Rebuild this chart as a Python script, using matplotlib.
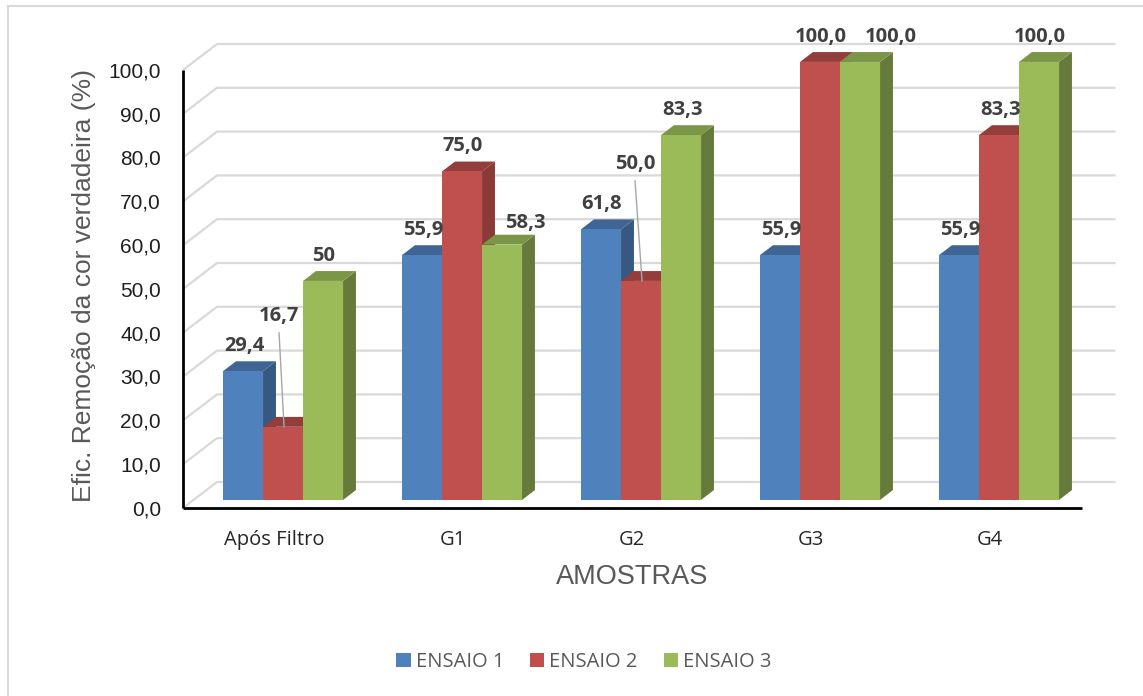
import matplotlib
matplotlib.use("Agg")
import matplotlib.pyplot as plt
from matplotlib.patches import Polygon, Patch
from matplotlib.lines import Line2D

# ---- data ---------------------------------------------------------------
categories = ["Após Filtro", "G1", "G2", "G3", "G4"]
series_names = ["ENSAIO 1", "ENSAIO 2", "ENSAIO 3"]
ensaio_1 = [29.4, 55.9, 61.8, 55.9, 55.9]
ensaio_2 = [16.7, 75.0, 50.0, 100.0, 83.3]
ensaio_3 = [50.0, 58.3, 83.3, 100.0, 100.0]
y_ticks = [0, 10, 20, 30, 40, 50, 60, 70, 80, 90, 100]

# decimals shown in the data labels (default one decimal)
label_decimals = {(0, 2): 0}

# ---- style --------------------------------------------------------------
front_colors = ["#4F81BD", "#C0504D", "#9BBB59"]
side_colors = ["#365881", "#8A3A37", "#667B3B"]
top_colors = ["#3E6593", "#943E3B", "#7C9647"]
grid_color = "#D9D9D9"
label_color = "#404040"

W, H = 1143, 696
fig = plt.figure(figsize=(W / 100, H / 100), dpi=100)
fig.patch.set_facecolor("white")
ax = fig.add_axes([0, 0, 1, 1])
ax.axis("off")

# pixel scale of the plot: one category = 179 px, one value unit = 4.38 px
PX, PY = 179.0, 4.38
ORIGIN_X, ORIGIN_Y = 183, 508          # front-left corner of the floor
ax.set_xlim(-ORIGIN_X / PX, (W - ORIGIN_X) / PX)
ax.set_ylim(-(H - ORIGIN_Y) / PY, ORIGIN_Y / PY)

# oblique depth vector (full depth of the plot box)
DX, DY = 34 / PX, 26 / PY
D_FRONT, D_BACK = 0.31, 0.69           # depth range occupied by bars


def proj(x, v, d):
    return x + d * DX, v + d * DY


n_cat = len(categories)

# ---- walls: gridlines on the back wall and left side wall --------------
for v in y_ticks:
    xa, ya = proj(0, v, 0)
    xb, yb = proj(0, v, 1)
    xc, yc = proj(n_cat + 0.02, v, 1)
    ax.plot([xa, xb, xc], [ya, yb, yc], color=grid_color, lw=1.6,
            solid_capstyle="butt", zorder=1)

# front axes lines
ax.plot([0, 0], [0, 100], color="black", lw=2.0, zorder=5,
        solid_capstyle="butt")
ax.plot([0, n_cat + 0.02], [0, 0], color="black", lw=2.0, zorder=5,
        solid_capstyle="butt")

# ---- bars -----------------------------------------------------------------
series = [ensaio_1, ensaio_2, ensaio_3]
bar_w = 40 / PX
group_start = 0.5 - 1.5 * bar_w

# custom placement of some data labels (pixel offsets) + leader lines
label_shift = {(0, 1): (-5, 86), (2, 1): (-7, 92), (1, 2): (22, -3),
               (3, 2): (30, 0)}
leader = {(0, 1), (2, 1)}

z = 10
for i in range(n_cat):
    for s, vals in enumerate(series):
        v = vals[i]
        x = i + group_start + s * bar_w
        front = [proj(x, 0, D_FRONT), proj(x + bar_w, 0, D_FRONT),
                 proj(x + bar_w, v, D_FRONT), proj(x, v, D_FRONT)]
        side = [proj(x + bar_w, 0, D_FRONT), proj(x + bar_w, 0, D_BACK),
                proj(x + bar_w, v, D_BACK), proj(x + bar_w, v, D_FRONT)]
        top = [proj(x, v, D_FRONT), proj(x + bar_w, v, D_FRONT),
               proj(x + bar_w, v, D_BACK), proj(x, v, D_BACK)]
        ax.add_patch(Polygon(side, closed=True, facecolor=side_colors[s],
                             edgecolor="none", zorder=z))
        ax.add_patch(Polygon(top, closed=True, facecolor=top_colors[s],
                             edgecolor="none", zorder=z))
        ax.add_patch(Polygon(front, closed=True, facecolor=front_colors[s],
                             edgecolor="none", zorder=z + 1))
        z += 2

# data labels drawn after the bars
for i in range(n_cat):
    for s, vals in enumerate(series):
        v = vals[i]
        x = i + group_start + s * bar_w
        cx, cy = proj(x + bar_w / 2, v, D_FRONT)
        dec = label_decimals.get((i, s), 1)
        txt = f"{v:.{dec}f}".replace(".", ",")
        sx, sy = label_shift.get((i, s), (0, 0))
        tx = cx + (1 + sx) / PX
        ty = cy + (25 + sy) / PY
        if (i, s) in leader:
            ax.plot([tx, cx + 1 / PX], [ty - 17 / PY, cy], color="#A6A6A6",
                    lw=1.0, zorder=200)
        ax.text(tx, ty, txt, ha="center", va="center", fontsize=14.5,
                fontweight="bold", family="Open Sans", color=label_color,
                zorder=300)

# ---- axis texts ---------------------------------------------------------
for v in y_ticks:
    ax.text(-22 / PX, v - 0.4, f"{v:.1f}".replace(".", ","), ha="right",
            va="center", fontsize=15, family="Liberation Sans",
            color="#1F1F1F")

for i, c in enumerate(categories):
    ax.text(i + 0.5 + 1.5 / PX, -32 / PY, c, ha="center", va="center",
            fontsize=14.5, family="Open Sans", color="#262626")

fig.text(632 / W, 1 - 577 / H, "AMOSTRAS", ha="center", va="center",
         fontsize=19.5, family="Liberation Sans", color="#595959")
fig.text(84 / W, 1 - 286 / H, "Efic. Remoção da cor verdadeira (%)",
         ha="center", va="center", rotation=90, fontsize=19,
         family="Liberation Sans", color="#595959")

# ---- legend --------------------------------------------------------------
handles = [Patch(facecolor=c, edgecolor="none") for c in front_colors]
leg = fig.legend(handles, series_names, loc="center",
                 bbox_to_anchor=(584 / W, 1 - 662 / H), ncol=3, frameon=False,
                 prop={"family": "Open Sans", "size": 14.5},
                 handlelength=0.7, handleheight=0.7, handletextpad=0.25,
                 columnspacing=1.3, borderpad=0)
for t in leg.get_texts():
    t.set_color("#595959")

# ---- chart border ------------------------------------------------------
fig.add_artist(Line2D([8 / W, 8 / W], [0, 1 - 6 / H], color=grid_color,
                      lw=1.5, transform=fig.transFigure))
fig.add_artist(Line2D([8 / W, 1], [1 - 6 / H, 1 - 6 / H], color=grid_color,
                      lw=1.5, transform=fig.transFigure))

fig.savefig("out.png", dpi=100, facecolor="white")
